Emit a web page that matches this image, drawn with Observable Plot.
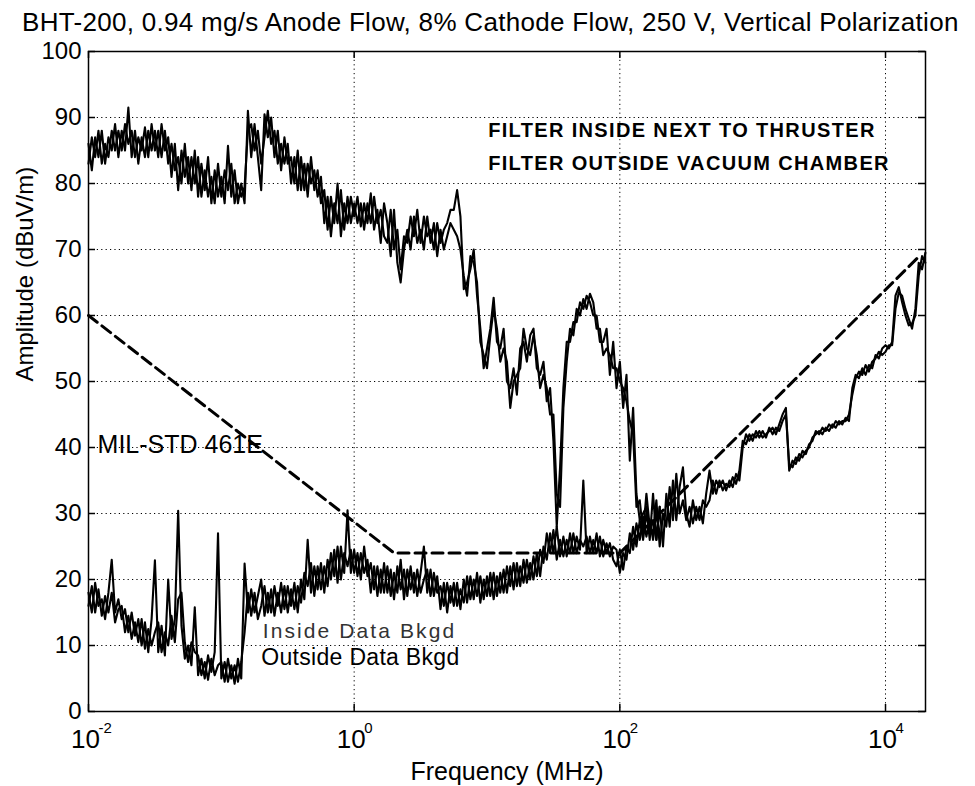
<!DOCTYPE html>
<html><head><meta charset="utf-8">
<script src="https://cdn.jsdelivr.net/npm/d3@7"></script>
<script src="https://cdn.jsdelivr.net/npm/@observablehq/plot@0.6"></script>
<style>
body{margin:0;background:#fff;font-family:"Liberation Sans",Arial,Helvetica,sans-serif;}
#wrap{width:975px;height:786px;position:relative;overflow:hidden;background:#fff}
#title{position:absolute;left:22px;top:8px;font-size:26px;line-height:1.15;white-space:nowrap;letter-spacing:0.3px;color:#000}
#chart{position:absolute;left:0;top:40px}
</style>
</head><body>
<div id="wrap">
<div id="title">BHT-200, 0.94 mg/s Anode Flow, 8% Cathode Flow, 250 V, Vertical Polarization</div>
<div id="chart"></div>
</div>
<script>
// log10 of frequency (MHz) at which the traces were read
const logFreq = [
-2,-1.975,-1.95,-1.925,-1.9,-1.875,-1.85,-1.825,-1.8,-1.775,
-1.75,-1.725,-1.7,-1.675,-1.65,-1.625,-1.6,-1.575,-1.55,-1.525,
-1.5,-1.475,-1.45,-1.425,-1.4,-1.375,-1.35,-1.325,-1.3,-1.275,
-1.25,-1.225,-1.2,-1.175,-1.15,-1.125,-1.1,-1.075,-1.05,-1.025,
-1,-0.975,-0.95,-0.925,-0.9,-0.875,-0.85,-0.825,-0.8,-0.775,
-0.75,-0.725,-0.7,-0.675,-0.65,-0.625,-0.6,-0.575,-0.55,-0.525,
-0.5,-0.475,-0.45,-0.425,-0.4,-0.375,-0.35,-0.325,-0.3,-0.275,
-0.25,-0.225,-0.2,-0.175,-0.15,-0.125,-0.1,-0.075,-0.05,-0.025,
0,0.025,0.05,0.075,0.1,0.125,0.15,0.175,0.2,0.225,
0.25,0.275,0.3,0.325,0.35,0.375,0.4,0.425,0.45,0.475,
0.5,0.525,0.55,0.575,0.6,0.625,0.65,0.675,0.7,0.725,
0.75,0.775,0.8,0.825,0.85,0.875,0.9,0.925,0.95,0.975,
1,1.025,1.05,1.075,1.1,1.125,1.15,1.175,1.2,1.225,
1.25,1.275,1.3,1.325,1.35,1.375,1.4,1.425,1.45,1.475,
1.5,1.525,1.55,1.575,1.6,1.625,1.65,1.675,1.7,1.725,
1.75,1.775,1.8,1.825,1.85,1.875,1.9,1.925,1.95,1.975,
2,2.025,2.05,2.075,2.1,2.125,2.15,2.175,2.2,2.225,
2.25,2.275,2.3,2.325,2.35,2.375,2.4,2.425,2.45,2.475,
2.5,2.525,2.55,2.575,2.6,2.625,2.65,2.675,2.7,2.725,
2.75,2.775,2.8,2.825,2.85,2.875,2.9,2.925,2.95,2.975,
3,3.025,3.05,3.075,3.1,3.125,3.15,3.175,3.2,3.225,
3.25,3.275,3.3,3.325,3.35,3.375,3.4,3.425,3.45,3.475,
3.5,3.525,3.55,3.575,3.6,3.625,3.65,3.675,3.7,3.725,
3.75,3.775,3.8,3.825,3.85,3.875,3.9,3.925,3.95,3.975,
4,4.025,4.05,4.075,4.1,4.125,4.15,4.175,4.2,4.225,
4.25,4.275,4.3
];

// Thruster on, filter inside next to thruster (dBuV/m)
const filterInside = [
86,82,87,84,88,83,87,85,89,84,
88,85,91.5,84,88,83,87,84,88,85,
88,84,89,85,87,81,86,79,85,81,
84,79,85,78,83,79,84,77,82,78,
81,77,85.7,78,82,77,80,77,91,84,
89,84,79,90.5,87,90,84,88,82,87,
83,84,80,85,79,83,78,84,79,82,
77,79,73,78,74,80,72,77,74,78,
75,78,73.5,77,74,78.5,73,76,71,77,
74,69,76,68,65,70,73,70,75,71,
73,70,75,71,74,69,73,70,72,74,
73,72,70,66,63,69,68,65,56,54,
52,57,61,58,53,55,53,46,50,51,
52,58,55,54,57,54,49,51,49,45,
45,33,31,46,53,58,57,61,60,62.5,
61,63.3,62,58,58,54,55,54,52,52,
50,49,47,44,42,31,32,27,33,28,
27,32,25,30,28,34,29,36,30,32,
29,31,28.5,31,29,32,31,32,35,33,
35,33.5,34.5,34,35.5,34.5,36.5,41,40.5,42,
41,42.5,41.5,42.5,41.5,43,42,43,42.5,44,
45,37.5,37,38.5,38,39.5,39,40.5,41,42.5,
42,43,42.5,43.5,43,44,43.5,44,44,45,
48,50.5,51.5,51,52.5,51.5,53,53.5,54.5,54,
54.5,55.5,55.5,61,63.5,63,61,59.5,58,61,
68,67,69.5
];

// Thruster on, filter outside vacuum chamber (dBuV/m)
const filterOutside = [
83,87,84,88,83,86,84,88,85,88,
85,89,86,88,84,87,85,88.5,84,89,
85,88,84,88,83,86,82,84,80,86,
80,84,80,84,78,82,78,81,77,83,
78,82,79,83,77,80,78,79.5,88,89,
85,88,83,87,91,86,88,83,86,83,
86,80,84,79,84,79,83,80,82,78,
81,74,78,72,77,74,79,73,78,74,
77,74,77,73,77,74,78,74,76,72,
71,76,70,73,67,72,71,75,72,76,
71,75,72,73,70,74,71,73,74,76,
76,79,75,64,65,67,70,63,58,52,
55,58,62.7,56,55,58,50,49,52,48,
55,56,53,57,58,52,51,53,47,49,
41,28,37,49,56,56,59,59,62,61,
63,62,60,60,56,56,58,51,56,49,
53,46,51,38,46,33,29,30,31,26,
33,26,31,25,33,28,35,29,34,37,
30,28,32,29,31,28.5,33,36.5,33,35,
34,35,33.5,35,34,36,35,40,42,41,
42,41.5,42.5,41.5,42,42.5,43,42,43.5,45,
46,36.5,38,37.5,39,38.5,39.5,40,41.5,42,
42.5,42,43,42.5,43.5,43,44,43.5,44.5,44,
49,51,50.5,52,51,52.5,52,54,53.5,55,
55.5,55,56,63,64.3,62,60,58.5,58.8,60,
66,69,68
];

// Background, inside data (dBuV/m)
const bkgdInside = [
18,15,19.5,16,17,14,18,23,15,17,
14,15.5,12,15,11.5,14,10,13.5,9,14,
22.9,9,13,8.5,20,11,14,30.4,13,8,
10,7,15.8,5.5,8,5,8.5,6,9,27,
5,7.5,4.5,7,4.2,8,5,22.4,15,18.5,
15,17.5,20,14.5,18,15,19,16,19.5,15.5,
19,16,19.5,15,20,17,26,18,22,18.5,
22.5,18,23,20,24.5,19.5,25,21,30.5,21,
24.5,20.5,24,21,23,18,22,17.5,21.5,18,
22,17.5,21,18,23,17,21.5,18.5,21,17.5,
21,25,18,21.5,17.5,20.5,15.5,19.5,15,19,
16,19.5,15.5,20,16.5,20.5,17,21,16.5,20,
17.5,21,17,20.5,18,21.5,18,22,18.5,22.5,
19,23,19.5,22.5,20,24,20.5,25,23,27,
24,28,23.5,26.5,23.5,27,24,26.5,24.5,35,
24,26.5,24,27,23.5,26,24,25.5,23,22,
24.5,21.5,25,24,28,25,29,26,30,27,
29,26,31
];

// Background, outside data (dBuV/m)
const bkgdOutside = [
16,19,15,18.5,14.5,17.5,15,18,13.5,15.5,
16,12,14.5,11,13.5,10.5,14,9.5,12.5,10,
12,13.5,9,12,10,14.5,10.5,17,18,10.5,
7.5,10.5,9,8.5,5.5,7.5,4.8,8,5.5,7,
7.5,4.5,8,5,7,4.5,7.5,12,18,14.5,
18,14,16,19,15,18.5,14.5,18,15,19,
15,18.5,15.5,19,16.5,21,19,22.5,17.5,22,
18.5,22,19,24,20.5,25,20,24,22,24.5,
21,24,20,25,20.5,22.5,18.5,22,18,22.5,
18,21.5,17,22,18.5,21.5,17.5,22,18,21.5,
18,20,21.5,17.5,21,18,19,16,19.5,16.5,
19.5,16,18.5,16.5,20.5,17,20,17.5,20.5,17,
20.5,17.5,21,17.5,21,18,22,19,22.5,19,
22,19.5,23,20,23.5,20.5,24.5,22.5,27,24,
27.5,23,26,23.5,26,24,27,24,26,25,
26.5,24,26,24,26.5,23.5,25.5,23.5,25,24.5,
21,24,23,27,24.5,28.5,26,29.5,26.5,29,
26,30,27
];

// MIL-STD 461E limit (RE102)
const milFreq = [0.01, 2, 100, 18000];
const milLevel = [60, 24, 24, 69];

// axis ticks
const xTickValues = [0.01, 1, 100, 10000];
const xTickExponents = ["-2", "0", "2", "4"];
const xGridValues = [1, 100, 10000];
const yTickValues = [0, 10, 20, 30, 40, 50, 60, 70, 80, 90, 100];
const yGridValues = [10, 20, 30, 40, 50, 60, 70, 80, 90];

// annotations
const filterNotes = ["FILTER INSIDE NEXT TO THRUSTER", "FILTER OUTSIDE VACUUM CHAMBER"];
const filterNoteFreq = [10.2, 10.2];
const filterNoteLevel = [87, 82];

const seriesList = [
  {name: "Filter inside", values: filterInside},
  {name: "Filter outside", values: filterOutside},
  {name: "Inside bkgd", values: bkgdInside},
  {name: "Outside bkgd", values: bkgdOutside}
];
const traces = seriesList.flatMap(s => s.values.map((v, i) => ({series: s.name, f: Math.pow(10, logFreq[i]), v})));
const mil = milFreq.map((f, i) => ({f, v: milLevel[i]}));
const notes = filterNotes.map((t, i) => ({t, f: filterNoteFreq[i], v: filterNoteLevel[i]}));

const font = '"Liberation Sans", Arial, Helvetica, sans-serif';
const chart = Plot.plot({
  width: 975, height: 746,
  marginTop: 11, marginBottom: 75, marginLeft: 88, marginRight: 50,
  x: {type: "log", domain: [0.01, 20000], axis: null},
  y: {domain: [0, 100], axis: null},
  style: {fontFamily: font, fontSize: "24px", color: "black", background: "white", overflow: "visible"},
  marks: [
    Plot.ruleY(yGridValues, {y: d => d, stroke: "black", strokeWidth: 1, strokeDasharray: "1.2,3.2"}),
    Plot.ruleX(xGridValues, {x: d => d, stroke: "black", strokeWidth: 1, strokeDasharray: "1.2,3.2"}),
    Plot.line(traces, {x: "f", y: "v", z: "series", stroke: "black", strokeWidth: 2.1, strokeLinejoin: "round"}),
    Plot.line(mil, {x: "f", y: "v", stroke: "black", strokeWidth: 3, strokeDasharray: "11,6"}),
    Plot.tickX(xTickValues, {x: d => d, insetTop: 653, stroke: "black", strokeWidth: 1.5}),
    Plot.tickX(xTickValues, {x: d => d, insetBottom: 653, stroke: "black", strokeWidth: 1.5}),
    Plot.tickY(yTickValues, {y: d => d, insetRight: 830, stroke: "black", strokeWidth: 1.5}),
    Plot.tickY(yTickValues, {y: d => d, insetLeft: 830, stroke: "black", strokeWidth: 1.5}),
    Plot.frame({stroke: "black", strokeWidth: 1.5}),
    Plot.text(yTickValues, {y: d => d, frameAnchor: "left", text: d => String(d), textAnchor: "end", lineAnchor: "middle", dx: -7, fontSize: 24, fill: "black"}),
    Plot.text(xTickValues, {x: d => d, frameAnchor: "bottom", text: () => "10", textAnchor: "middle", lineAnchor: "bottom", dx: -3, dy: 36, fontSize: 26, fill: "black"}),
    Plot.text(xTickValues, {x: d => d, frameAnchor: "bottom", text: (d, i) => xTickExponents[i], textAnchor: "start", lineAnchor: "bottom", dx: 10, dy: 21, fontSize: 15, fill: "black"}),
    Plot.text(["Frequency (MHz)"], {frameAnchor: "bottom", text: d => d, lineAnchor: "bottom", dy: 68, fontSize: 25, fill: "black"}),
    Plot.text(["Amplitude (dBuV/m)"], {frameAnchor: "left", text: d => d, rotate: -90, dx: -63, fontSize: 24, fill: "black"}),
    Plot.text(notes, {x: "f", y: "v", text: "t", textAnchor: "start", lineAnchor: "bottom", fontSize: 20, fontWeight: "bold", fill: "black"}),
    Plot.text(["MIL-STD 461E"], {x: () => 0.0117, y: () => 39.2, text: d => d, textAnchor: "start", lineAnchor: "bottom", fontSize: 25, fill: "black"}),
    Plot.text(["Inside Data Bkgd"], {x: () => 0.205, y: () => 11.1, text: d => d, textAnchor: "start", lineAnchor: "bottom", fontSize: 21, fill: "#333"}),
    Plot.text(["Outside Data Bkgd"], {x: () => 0.2, y: () => 7.0, text: d => d, textAnchor: "start", lineAnchor: "bottom", fontSize: 23, fill: "black"})
  ]
});
// letter spacing to match the wide lettering of the original
const spacing = new Map([
  ["FILTER INSIDE NEXT TO THRUSTER", "1.35px"],
  ["FILTER OUTSIDE VACUUM CHAMBER", "1.35px"],
  ["Inside Data Bkgd", "2.1px"],
  ["Outside Data Bkgd", "0.3px"]
]);
d3.select(chart).selectAll("text").each(function () {
  const s = spacing.get(this.textContent);
  if (s) this.style.letterSpacing = s;
});
document.getElementById("chart").appendChild(chart);
</script>
</body></html>
